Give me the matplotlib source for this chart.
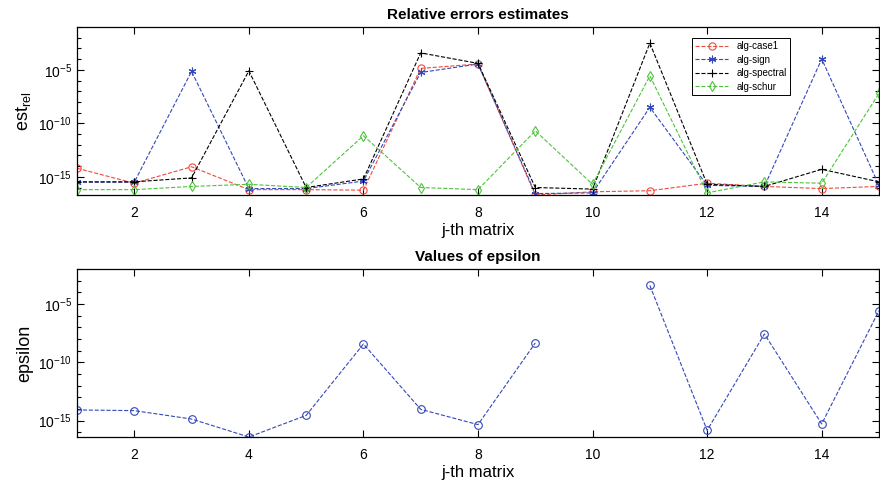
import numpy as np
import matplotlib
matplotlib.use('Agg')
import matplotlib.pyplot as plt
from matplotlib.ticker import FixedLocator, NullFormatter

plt.rcParams['font.family'] = ['Liberation Sans', 'DejaVu Sans']
plt.rcParams['mathtext.fontset'] = 'custom'
plt.rcParams['mathtext.rm'] = 'Liberation Sans'
plt.rcParams['mathtext.it'] = 'Liberation Sans'
plt.rcParams['axes.unicode_minus'] = False

# j-th matrix index
j = np.arange(1, 16)

# log10 of the relative error estimates
case1_log = [-14.2, -15.6, -14.06, -16.2, -16.2, -16.25, -4.87, -4.46, -16.7,
             -16.4, -16.3, -15.6, -15.9, -16.1, -15.9]
sign_log = [-15.5, -15.5, -5.15, -16.1, -16.1, -15.4, -5.25, -4.46, -16.57,
            -16.5, -8.5, -15.8, -15.9, -3.99, -15.8]
spectral_log = [-15.47, -15.47, -15.1, -5.1, -16.0, -15.2, -3.42, -4.4, -16.0,
                -16.15, -2.5, -15.7, -15.9, -14.3, -15.47]
schur_log = [-16.2, -16.2, -15.9, -15.7, -16.0, -11.16, -16.0, -16.2, -10.7,
             -15.7, -5.57, -16.5, -15.47, -15.6, -7.2]

# log10 of epsilon (matrix 10 has no value)
eps_log = [-14.08, -14.14, -14.86, -16.4, -14.55, -8.43, -14.03, -15.34, -8.34,
           np.nan, -3.41, -15.83, -7.57, -15.28, -5.57]

asterisk = (6, 2, 0)
series = [
    ('alg-case1', case1_log, '#f04a3e', 'o', 5.2),
    ('alg-sign', sign_log, '#3448b8', asterisk, 5.5),
    ('alg-spectral', spectral_log, 'k', '+', 6),
    ('alg-schur', schur_log, '#4cc43a', 'd', 5.5),
]

fig = plt.figure(figsize=(8.8, 4.82), dpi=100)
ax1 = fig.add_axes([77/880, 1-195/482, 802/880, 168/482])
ax2 = fig.add_axes([77/880, 1-437/482, 802/880, 168/482])


def style_axis(ax, ymin, ymax):
    ax.set_yscale('log')
    ax.set_xlim(1, 15)
    ax.set_ylim(ymin, ymax)
    ax.set_xticks([2, 4, 6, 8, 10, 12, 14])
    ax.yaxis.set_major_locator(FixedLocator([1e-15, 1e-10, 1e-5]))
    ax.yaxis.set_minor_locator(FixedLocator([10.0**k for k in range(-20, 1)]))
    ax.yaxis.set_minor_formatter(NullFormatter())
    ax.tick_params(which='both', direction='in', top=True, right=True,
                   labelsize=10, width=0.8)
    ax.tick_params(axis='x', pad=8)
    ax.tick_params(which='major', length=5)
    ax.tick_params(which='minor', length=3)
    for s in ax.spines.values():
        s.set_linewidth(0.9)


for name, vals, col, mk, ms in series:
    ax1.plot(j, 10.0**np.array(vals), '--', color=col, marker=mk, ms=ms,
             mfc='none', mec=col, lw=0.8, mew=0.8, label=name)
style_axis(ax1, 10**-16.7, 1e-1)
ax1.set_title('Relative errors estimates', fontsize=11, fontweight='bold', pad=6)
ax1.set_xlabel('j-th matrix', fontsize=12, labelpad=2)
ax1.set_ylabel(r'est$_{\mathrm{rel}}$', fontsize=13)
leg = ax1.legend(loc='upper left', bbox_to_anchor=(615/802, 0.935), fontsize=7,
                 handlelength=3.4, borderpad=0.35, labelspacing=0.35,
                 borderaxespad=0, fancybox=False, edgecolor='k', framealpha=1)
leg.get_frame().set_linewidth(0.7)

ax2.plot(j, 10.0**np.array(eps_log), '--', color='#3448b8', marker='o', ms=5.5,
         mfc='none', mec='#3448b8', lw=0.8, mew=0.8)
style_axis(ax2, 10**-16.4, 1e-2)
ax2.set_title('Values of epsilon', fontsize=11, fontweight='bold', pad=6)
ax2.set_xlabel('j-th matrix', fontsize=12, labelpad=2)
ax2.set_ylabel('epsilon', fontsize=13)

fig.savefig('out.png', dpi=100)
